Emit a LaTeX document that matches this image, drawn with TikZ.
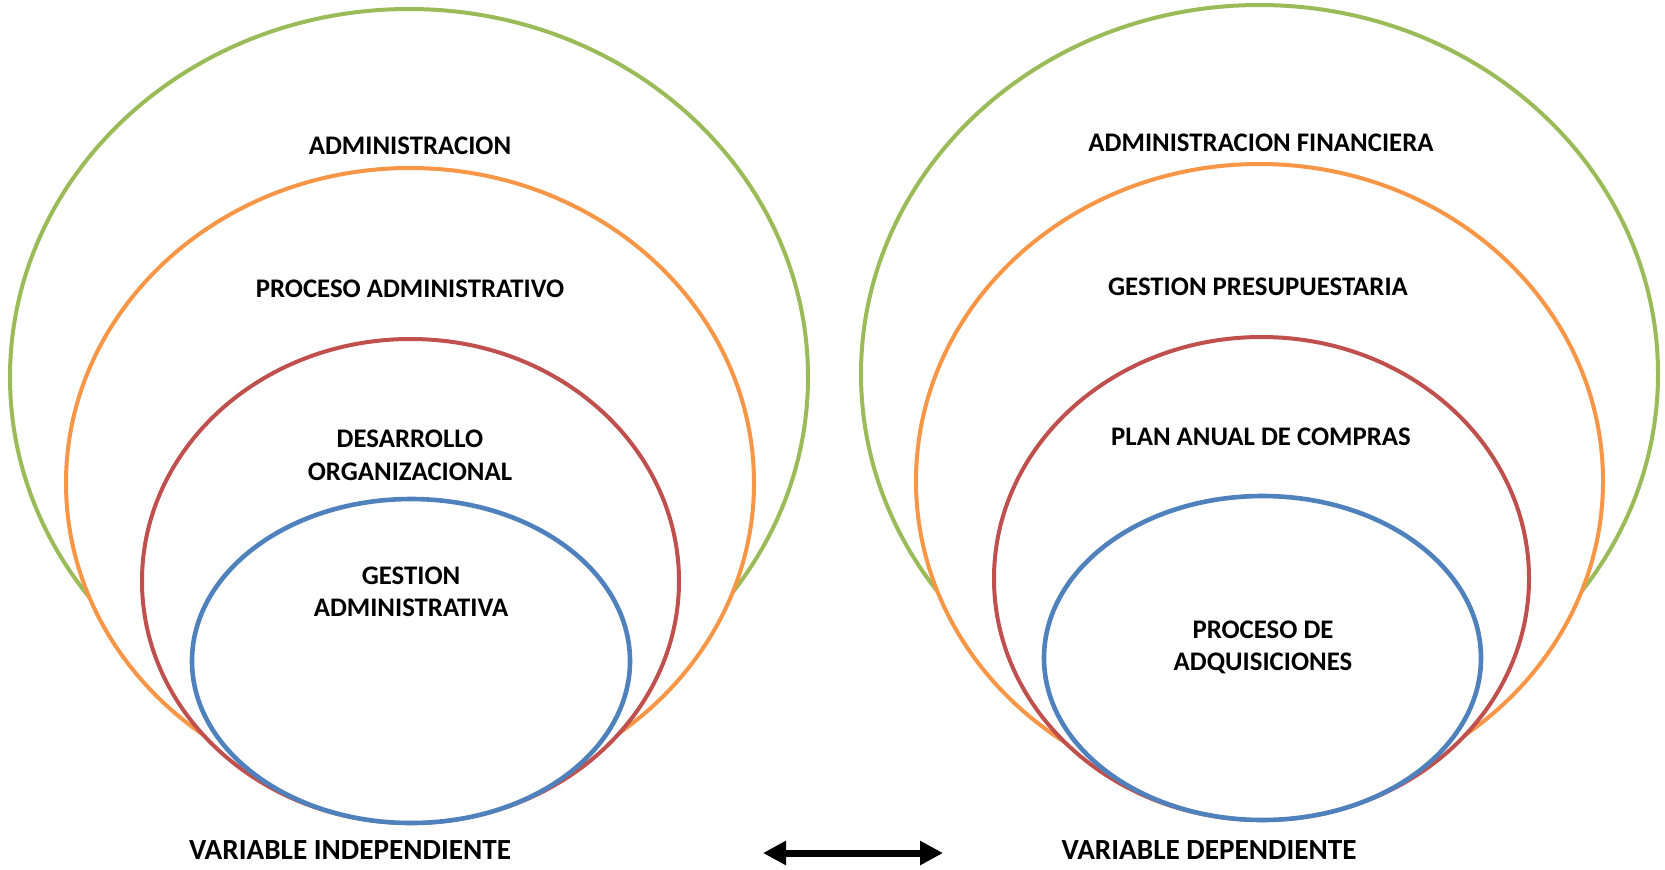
\documentclass[tikz,border=0pt]{standalone}
\usepackage{fontspec}
\setmainfont{Carlito}
\usetikzlibrary{shapes.geometric,arrows.meta}
\definecolor{cgreen}{HTML}{9BBB59}
\definecolor{corange}{HTML}{F79646}
\definecolor{cred}{HTML}{C0504D}
\definecolor{cblue}{HTML}{4F81BD}
\begin{document}
\begin{tikzpicture}[x=0.5pt,y=-0.5pt,
  ring/.style={ellipse, fill=white, inner sep=0pt, outer sep=0pt, line width=2pt},
  lbl/.style={anchor=base, inner sep=0pt, font=\fontsize{13.4}{16}\selectfont\bfseries},
  captxt/.style={lbl, font=\fontsize{14.6}{17}\selectfont\bfseries},
]
\useasboundingbox (0,0) rectangle (1665,869);

% independent variable: nested rings
\node[ring, draw=cgreen,  minimum width=798pt/2, minimum height=736pt/2] (lg) at (409,377) {};
\node[ring, draw=corange, minimum width=688pt/2, minimum height=630pt/2] (lo) at (410,483) {};
\node[ring, draw=cred,    minimum width=537pt/2, minimum height=484pt/2] (lr) at (410.5,581) {};
\node[ring, draw=cblue, line width=2.3pt, minimum width=438pt/2, minimum height=324pt/2] (lb) at (411,661) {};

% dependent variable: nested rings
\node[ring, draw=cgreen,  minimum width=797pt/2, minimum height=738pt/2] (rg) at (1259.5,374) {};
\node[ring, draw=corange, minimum width=687pt/2, minimum height=634pt/2] (ro) at (1259.5,481) {};
\node[ring, draw=cred,    minimum width=535pt/2, minimum height=483pt/2] (rr) at (1261.5,578.5) {};
\node[ring, draw=cblue, line width=2.3pt, minimum width=437pt/2, minimum height=324pt/2] (rb) at (1262.5,658) {};

% labels, left
\node[lbl] (t1) at (410,154.9) {ADMINISTRACION};
\node[lbl] (t2) at (410,297.2) {PROCESO ADMINISTRATIVO};
\node[lbl] (t3a) at (410,447.2) {DESARROLLO};
\node[lbl] (t3b) at (410,480.2) {ORGANIZACIONAL};
\node[lbl] (t4a) at (411,584.2) {GESTION};
\node[lbl] (t4b) at (411,616.2) {ADMINISTRATIVA};

% labels, right
\node[lbl] (u1) at (1261,151.2) {ADMINISTRACION FINANCIERA};
\node[lbl] (u2) at (1258,295.2) {GESTION PRESUPUESTARIA};
\node[lbl] (u3) at (1261,445.2) {PLAN ANUAL DE COMPRAS};
\node[lbl] (u4a) at (1263,638.2) {PROCESO DE};
\node[lbl] (u4b) at (1263,670.2) {ADQUISICIONES};

% bottom captions and relation arrow
\node[captxt] (vi) at (350,859.7) {VARIABLE INDEPENDIENTE};
\node[captxt] (vd) at (1209,859.7) {VARIABLE DEPENDIENTE};
\coordinate (al) at (763,853);
\coordinate (ar) at (943,853);
\draw[line width=3.5pt, {Triangle[length=11.5pt,width=11.5pt]}-{Triangle[length=11.5pt,width=11.5pt]}] (al) -- (ar);
\end{tikzpicture}
\end{document}
